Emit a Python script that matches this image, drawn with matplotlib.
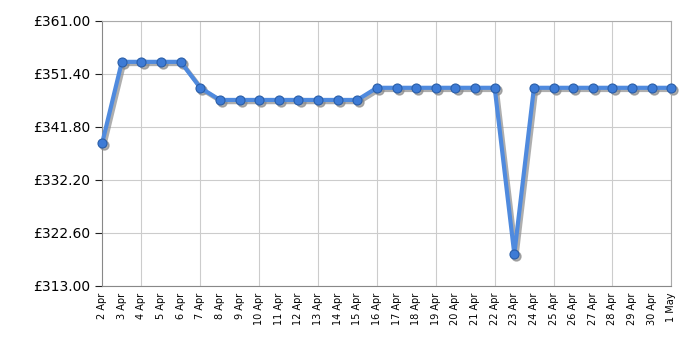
import matplotlib
matplotlib.use("Agg")
import matplotlib.pyplot as plt
import matplotlib.transforms as mtransforms

days = ["2 Apr", "3 Apr", "4 Apr", "5 Apr", "6 Apr", "7 Apr", "8 Apr", "9 Apr",
        "10 Apr", "11 Apr", "12 Apr", "13 Apr", "14 Apr", "15 Apr", "16 Apr",
        "17 Apr", "18 Apr", "19 Apr", "20 Apr", "21 Apr", "22 Apr", "23 Apr",
        "24 Apr", "25 Apr", "26 Apr", "27 Apr", "28 Apr", "29 Apr", "30 Apr", "1 May"]
prices = [338.9, 353.6, 353.6, 353.6, 353.6, 348.9, 346.7, 346.7, 346.7, 346.7,
          346.7, 346.7, 346.7, 346.7, 348.9, 348.9, 348.9, 348.9, 348.9, 348.9,
          348.9, 318.8, 348.9, 348.9, 348.9, 348.9, 348.9, 348.9, 348.9, 348.9]
yticks = [313.0, 322.6, 332.2, 341.8, 351.4, 361.0]

fig = plt.figure(figsize=(7, 3.5), dpi=100)
ax = fig.add_axes([0.146, 0.183, 0.813, 0.757])

x = list(range(len(days)))

# grey drop shadow, shifted a couple of pixels right/down
shift = mtransforms.offset_copy(ax.transData, fig=fig, x=1.5, y=-1.5, units="points")
ax.plot(x, prices, color="#8c8c8c", lw=3.2, marker="o", ms=6.5, mec="#8c8c8c",
        alpha=0.7, transform=shift, zorder=2, clip_on=False)
ax.plot(x, prices, color="#4f8ade", lw=3, marker="o", ms=6.5,
        markerfacecolor="#3d7bd6", markeredgecolor="#2a5ea8", markeredgewidth=0.8,
        zorder=3, clip_on=False)

ax.set_xlim(0, len(days) - 1)
ax.set_ylim(313, 361)
ax.set_yticks(yticks)
ax.set_yticklabels(["£%.2f" % v for v in yticks], fontsize=10)

ax.set_xticks(x)
ax.set_xticklabels(days, rotation=90, fontsize=7)
ax.set_xticks(x[2::3], minor=True)
ax.tick_params(axis="x", which="major", length=0, pad=5)
ax.tick_params(axis="x", which="minor", length=5, color="#222222")
ax.tick_params(axis="y", length=5, color="#222222")

ax.grid(True, axis="y", color="#cccccc", lw=0.8)
for i in x[2::3]:
    ax.axvline(i, color="#cccccc", lw=0.8, zorder=0)

for s in ax.spines.values():
    s.set_color("#aaaaaa")
ax.spines["left"].set_color("#888888")
ax.spines["bottom"].set_color("#888888")

fig.savefig("out.png", dpi=100)
